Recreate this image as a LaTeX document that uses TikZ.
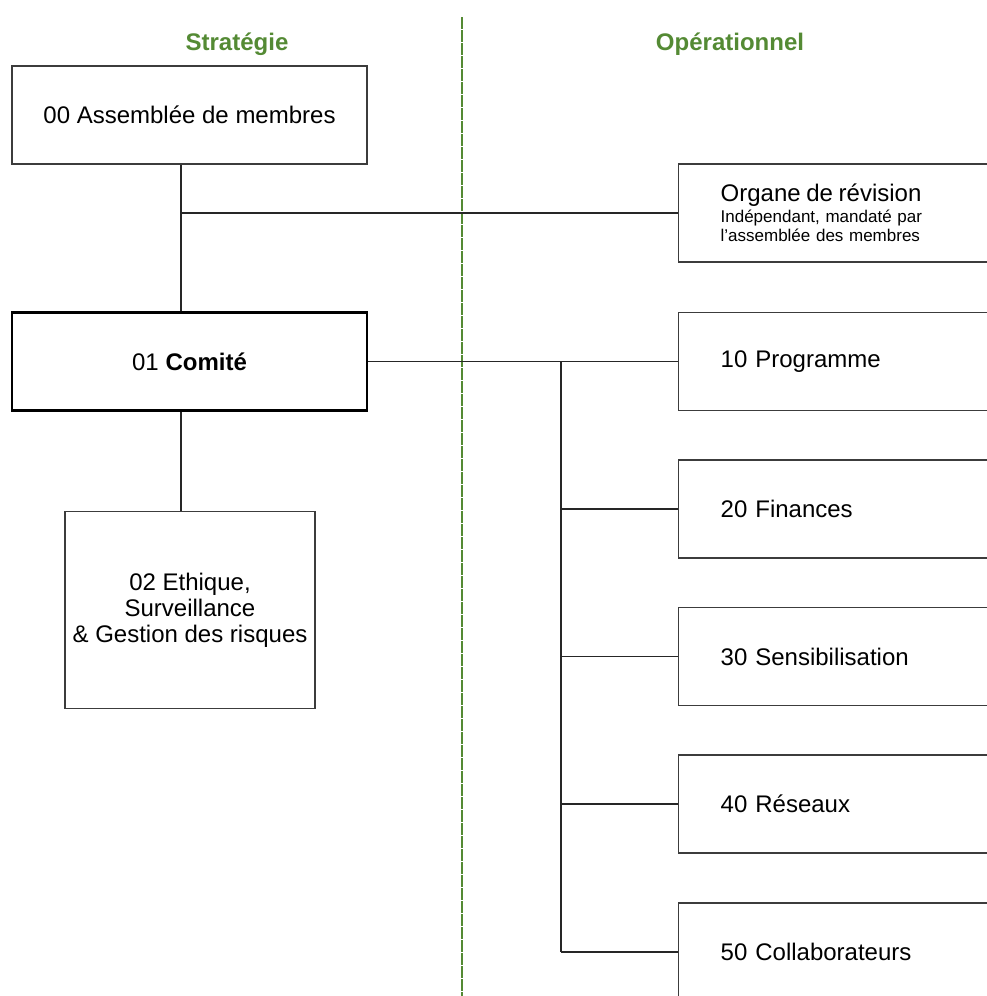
\documentclass[tikz,border=0pt]{standalone}
\usepackage{fontspec}
\setmainfont{Liberation Sans}
\usetikzlibrary{positioning}
\definecolor{leafgreen}{RGB}{84,138,52}
\definecolor{framegrey}{RGB}{60,60,60}

\begin{document}
\begin{tikzpicture}[x=1pt,y=-1pt,
  every node/.style={font=\fontsize{24}{28}\selectfont},
  unit/.style={draw=framegrey,line width=1.3pt,inner sep=0pt,
    minimum width=355pt,minimum height=98pt},
  dept/.style={draw=framegrey,line width=1.3pt,inner xsep=42pt,inner ysep=0pt,
    text width=250pt,align=left,minimum height=98pt,anchor=west},
  link/.style={line width=1.2pt,draw=black!85},
  heading/.style={text=leafgreen,font=\bfseries\fontsize{24}{28}\selectfont}]
  \useasboundingbox (0,0) rectangle (987,996);
  \coordinate (trunk) at (181,0);
  \coordinate (fork) at (561,0);
  \node[heading] (strat) at (237,44) {Stratégie};
  \node[heading] (oper) at (730,44) {Opérationnel};
  \draw[leafgreen,line width=1.6pt,dash pattern=on 12pt off 1pt]
    (462,17) -- (462,996);
  \node[unit] (assembly) at (189.5,115) {00 Assemblée de membres};
  \node[unit,draw=black,line width=2.6pt] (board) at (189.5,361.5)
    {01 \textbf{Comité}};
  \node[unit,minimum width=250pt,minimum height=197pt,align=center,
    font=\fontsize{24}{26}\selectfont] (ethics) at (190,610)
    {02 Ethique,\\Surveillance\\\& Gestion des risques};
  \node[dept,font=\fontsize{17}{19}\selectfont] (audit) at (678,213)
    {{\fontsize{24}{19}\selectfont Organe de révision}\\[2pt]
     Indépendant, mandaté par\\l’assemblée des membres};
  \foreach \name/\y/\txt in {prog/361.5/10 Programme,fin/509/20 Finances,
      aware/656.5/30 Sensibilisation,net/804/40 Réseaux,
      staff/952/50 Collaborateurs}
    \node[dept] (\name) at (678,\y) {\txt};
  \draw[link] (assembly.south -| trunk) -- (board.north -| trunk);
  \draw[link] (trunk |- audit.west) -- (audit.west);
  \draw[link] (board.east) -- (prog.west);
  \draw[link] (board.south -| trunk) -- (ethics.north -| trunk);
  \draw[link] (fork |- prog.west) -- (fork |- staff.west);
  \foreach \name in {fin,aware,net,staff}
    \draw[link] (fork |- \name.west) -- (\name.west);
\end{tikzpicture}
\end{document}
